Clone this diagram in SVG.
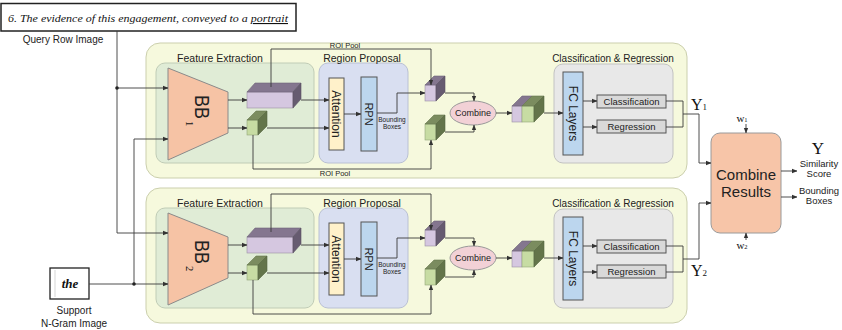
<svg xmlns="http://www.w3.org/2000/svg" width="842" height="330" viewBox="0 0 842 330">
<defs>
  <marker id="arr" viewBox="0 0 6 6" refX="5.6" refY="3" markerWidth="5.5" markerHeight="5.5" markerUnits="userSpaceOnUse" orient="auto">
    <path d="M0,0.6 L6,3 L0,5.4 Z" fill="#333"/>
  </marker>
</defs>
<style>
  .t{font-family:"Liberation Sans",Arial,sans-serif;fill:#222}
  .s{font-family:"Liberation Serif","Times New Roman",serif;fill:#111}
  .hand{font-family:"Liberation Serif","Times New Roman",serif;font-style:italic;fill:#111}
  .panel{fill:#f6f9dd;stroke:#cbcfad;stroke-width:1}
  .fe{fill:#e0ecd6;stroke:#c0ccb6;stroke-width:1}
  .rp{fill:#d9dff1;stroke:#b9c0d4;stroke-width:1}
  .cr{fill:#e8e8e8;stroke:#c2c2c2;stroke-width:1}
  .bb{fill:#f6c3a5;stroke:#8a8a8a;stroke-width:1}
  .att{fill:#fff1ca;stroke:#555;stroke-width:1}
  .blue{fill:#bcd6ee;stroke:#555;stroke-width:1}
  .box{fill:#d9d9d9;stroke:#555;stroke-width:1}
  .comb{fill:#f2d1d6;stroke:#999;stroke-width:1}
  .res{fill:#f7c5a8;stroke:#9a9a9a;stroke-width:1}
  .pf{fill:#d5c7e0;stroke:#9a90a2;stroke-width:0.6}
  .pt{fill:#84768f;stroke:#6f6478;stroke-width:0.6}
  .ps{fill:#665b70;stroke:#5a5063;stroke-width:0.6}
  .gf{fill:#c7dca3;stroke:#93a57a;stroke-width:0.6}
  .gt{fill:#7b8c5f;stroke:#66774d;stroke-width:0.6}
  .gs{fill:#63744a;stroke:#56663f;stroke-width:0.6}
  .ln{fill:none;stroke:#3a3a3a;stroke-width:0.9}
  .ar{marker-end:url(#arr)}
</style>

<!-- input images -->
<g id="query-image">
  <rect x="1" y="3.5" width="295" height="27.5" fill="#fff" stroke="#222" stroke-width="1.5"/>
  <text class="hand" x="8" y="22" font-size="11" textLength="280" lengthAdjust="spacingAndGlyphs">6. The evidence of this engagement, conveyed to a <tspan text-decoration="underline">portrait</tspan></text>
  <text class="t" x="63" y="43" font-size="10" text-anchor="middle">Query Row Image</text>
</g>
<g id="support-image">
  <rect x="50" y="268" width="39" height="31" fill="#fff" stroke="#222" stroke-width="1.3"/>
  <line x1="55" y1="270" x2="55" y2="297" stroke="#bbb" stroke-width="0.6"/>
  <text class="hand" x="70" y="288" font-size="13" text-anchor="middle" font-weight="bold">the</text>
  <text class="t" x="74" y="314" font-size="10" text-anchor="middle">Support</text>
  <text class="t" x="74" y="327" font-size="10" text-anchor="middle">N-Gram Image</text>
</g>

<!-- branch 1 -->
<g id="branch1">
  <rect class="panel" x="146" y="43" width="541" height="135" rx="14"/>
  <g id="feature-extraction-1">
    <rect class="fe" x="156" y="63" width="158" height="100" rx="9"/>
    <text class="t" x="220" y="61.5" font-size="10.5" text-anchor="middle">Feature Extraction</text>
  </g>
  <g id="region-proposal-1">
    <rect class="rp" x="319" y="63" width="89" height="100" rx="9"/>
    <text class="t" x="362" y="61.5" font-size="10.5" text-anchor="middle">Region Proposal</text>
  </g>
  <g id="cls-reg-1">
    <rect class="cr" x="554" y="64" width="119" height="99" rx="9"/>
    <text class="t" x="613" y="61.5" font-size="10" text-anchor="middle">Classification &amp; Regression</text>
  </g>
  <g id="backbone-1">
    <polygon class="bb" points="168,68 228,92 228,133 168,160"/>
    <g transform="translate(201,107) rotate(90)">
      <text class="t" x="-12" y="6.5" font-size="20" textLength="24" lengthAdjust="spacingAndGlyphs">BB</text>
      <text class="s" x="14" y="15" font-size="10.5">1</text>
    </g>
  </g>
  <g id="feat-map-1">
    <rect class="pf" x="247" y="92" width="46" height="16"/>
    <polygon class="pt" points="247,92 255,83 301,83 293,92"/>
    <polygon class="ps" points="293,92 301,83 301,99 293,108"/>
  </g>
  <g id="feat-vec-1">
    <rect class="gf" x="247" y="120" width="11" height="15"/>
    <polygon class="gt" points="247,120 256,111 267,111 258,120"/>
    <polygon class="gs" points="258,120 267,111 267,126 258,135"/>
  </g>
  <g id="attention-1">
    <rect class="att" x="329" y="78" width="15" height="72"/>
    <text class="t" transform="translate(336.5,114) rotate(90)" x="0" y="4.3" font-size="12" text-anchor="middle">Attention</text>
  </g>
  <g id="rpn-1">
    <rect class="blue" x="361" y="77" width="16" height="74"/>
    <text class="t" transform="translate(369,114) rotate(90)" x="0" y="4" font-size="11" text-anchor="middle">RPN</text>
    <text class="t" x="392" y="122" font-size="6.5" text-anchor="middle">Bounding</text>
    <text class="t" x="392" y="129" font-size="6.5" text-anchor="middle">Boxes</text>
  </g>
  <g id="roi-map-1">
    <rect class="pf" x="425" y="85" width="11" height="16"/>
    <polygon class="pt" points="425,85 434,76 445,76 436,85"/>
    <polygon class="ps" points="436,85 445,76 445,92 436,101"/>
  </g>
  <g id="roi-vec-1">
    <rect class="gf" x="425" y="124" width="11" height="16"/>
    <polygon class="gt" points="425,124 434,115 445,115 436,124"/>
    <polygon class="gs" points="436,124 445,115 445,131 436,140"/>
  </g>
  <g id="combine-1">
    <ellipse class="comb" cx="473" cy="113" rx="23" ry="12"/>
    <text class="t" x="473" y="116.2" font-size="9" text-anchor="middle">Combine</text>
  </g>
  <g id="joint-1">
    <rect class="pf" x="512" y="106" width="10" height="16"/>
    <rect class="gf" x="522" y="106" width="12" height="16"/>
    <polygon class="pt" points="512,106 522,96 532,96 522,106"/>
    <polygon class="gt" points="522,106 532,96 544,96 534,106"/>
    <polygon class="gs" points="534,106 544,96 544,112 534,122"/>
  </g>
  <g id="fc-1">
    <rect class="blue" x="563" y="72" width="20" height="83"/>
    <text class="t" transform="translate(573,113.5) rotate(90)" x="0" y="4.3" font-size="12" text-anchor="middle">FC Layers</text>
  </g>
  <g id="classification-1">
    <rect class="box" x="597" y="95" width="69" height="13"/>
    <text class="t" x="631.5" y="104.8" font-size="9.5" text-anchor="middle">Classification</text>
  </g>
  <g id="regression-1">
    <rect class="box" x="597" y="120" width="69" height="13"/>
    <text class="t" x="631.5" y="129.8" font-size="9.5" text-anchor="middle">Regression</text>
  </g>
  <text class="t" x="345" y="47.5" font-size="7.5" text-anchor="middle">ROI Pool</text>
  <text class="t" x="335" y="176" font-size="7.5" text-anchor="middle">ROI Pool</text>
  <text class="s" x="691" y="110" font-size="16">Y<tspan font-size="9">1</tspan></text>
</g>

<!-- branch 2 -->
<g id="branch2" transform="translate(0,145)">
  <rect class="panel" x="146" y="43" width="541" height="135" rx="14"/>
  <g id="feature-extraction-2">
    <rect class="fe" x="156" y="63" width="158" height="100" rx="9"/>
    <text class="t" x="220" y="61.5" font-size="10.5" text-anchor="middle">Feature Extraction</text>
  </g>
  <g id="region-proposal-2">
    <rect class="rp" x="319" y="63" width="89" height="100" rx="9"/>
    <text class="t" x="362" y="61.5" font-size="10.5" text-anchor="middle">Region Proposal</text>
  </g>
  <g id="cls-reg-2">
    <rect class="cr" x="554" y="64" width="119" height="99" rx="9"/>
    <text class="t" x="613" y="61.5" font-size="10" text-anchor="middle">Classification &amp; Regression</text>
  </g>
  <g id="backbone-2">
    <polygon class="bb" points="168,68 228,92 228,133 168,160"/>
    <g transform="translate(201,107) rotate(90)">
      <text class="t" x="-12" y="6.5" font-size="20" textLength="24" lengthAdjust="spacingAndGlyphs">BB</text>
      <text class="s" x="14" y="15" font-size="10.5">2</text>
    </g>
  </g>
  <g id="feat-map-2">
    <rect class="pf" x="247" y="92" width="46" height="16"/>
    <polygon class="pt" points="247,92 255,83 301,83 293,92"/>
    <polygon class="ps" points="293,92 301,83 301,99 293,108"/>
  </g>
  <g id="feat-vec-2">
    <rect class="gf" x="247" y="120" width="11" height="15"/>
    <polygon class="gt" points="247,120 256,111 267,111 258,120"/>
    <polygon class="gs" points="258,120 267,111 267,126 258,135"/>
  </g>
  <g id="attention-2">
    <rect class="att" x="329" y="78" width="15" height="72"/>
    <text class="t" transform="translate(336.5,114) rotate(90)" x="0" y="4.3" font-size="12" text-anchor="middle">Attention</text>
  </g>
  <g id="rpn-2">
    <rect class="blue" x="361" y="77" width="16" height="74"/>
    <text class="t" transform="translate(369,114) rotate(90)" x="0" y="4" font-size="11" text-anchor="middle">RPN</text>
    <text class="t" x="392" y="122" font-size="6.5" text-anchor="middle">Bounding</text>
    <text class="t" x="392" y="129" font-size="6.5" text-anchor="middle">Boxes</text>
  </g>
  <g id="roi-map-2">
    <rect class="pf" x="425" y="85" width="11" height="16"/>
    <polygon class="pt" points="425,85 434,76 445,76 436,85"/>
    <polygon class="ps" points="436,85 445,76 445,92 436,101"/>
  </g>
  <g id="roi-vec-2">
    <rect class="gf" x="425" y="124" width="11" height="16"/>
    <polygon class="gt" points="425,124 434,115 445,115 436,124"/>
    <polygon class="gs" points="436,124 445,115 445,131 436,140"/>
  </g>
  <g id="combine-2">
    <ellipse class="comb" cx="473" cy="113" rx="23" ry="12"/>
    <text class="t" x="473" y="116.2" font-size="9" text-anchor="middle">Combine</text>
  </g>
  <g id="joint-2">
    <rect class="pf" x="512" y="106" width="10" height="16"/>
    <rect class="gf" x="522" y="106" width="12" height="16"/>
    <polygon class="pt" points="512,106 522,96 532,96 522,106"/>
    <polygon class="gt" points="522,106 532,96 544,96 534,106"/>
    <polygon class="gs" points="534,106 544,96 544,112 534,122"/>
  </g>
  <g id="fc-2">
    <rect class="blue" x="563" y="72" width="20" height="83"/>
    <text class="t" transform="translate(573,113.5) rotate(90)" x="0" y="4.3" font-size="12" text-anchor="middle">FC Layers</text>
  </g>
  <g id="classification-2">
    <rect class="box" x="597" y="95" width="69" height="13"/>
    <text class="t" x="631.5" y="104.8" font-size="9.5" text-anchor="middle">Classification</text>
  </g>
  <g id="regression-2">
    <rect class="box" x="597" y="120" width="69" height="13"/>
    <text class="t" x="631.5" y="129.8" font-size="9.5" text-anchor="middle">Regression</text>
  </g>
  <text class="s" x="691" y="131" font-size="16">Y<tspan font-size="9">2</tspan></text>
</g>

<!-- fusion -->
<g id="combine-results">
  <rect class="res" x="711" y="133" width="70" height="100" rx="9"/>
  <text class="t" x="746" y="180" font-size="15" text-anchor="middle">Combine</text>
  <text class="t" x="746" y="197" font-size="15" text-anchor="middle">Results</text>
  <text class="s" x="742" y="122" font-size="11" text-anchor="middle">w<tspan font-size="6.5">1</tspan></text>
  <text class="s" x="742" y="249" font-size="11" text-anchor="middle">w<tspan font-size="6.5">2</tspan></text>
</g>
<g id="outputs">
  <text class="s" x="818" y="154" font-size="17" text-anchor="middle">Y</text>
  <text class="t" x="819" y="167" font-size="9.5" text-anchor="middle">Similarity</text>
  <text class="t" x="819" y="177" font-size="9.5" text-anchor="middle">Score</text>
  <text class="t" x="819" y="194" font-size="9.5" text-anchor="middle">Bounding</text>
  <text class="t" x="819" y="204" font-size="9.5" text-anchor="middle">Boxes</text>
</g>

<!-- connectors -->
<g id="connectors">
  <!-- inputs -->
  <path class="ln" d="M117,31 V233"/>
  <path class="ln ar" d="M117,88 H168"/>
  <path class="ln ar" d="M117,233 H168"/>
  <path class="ln ar" d="M89,284 H168"/>
  <path class="ln" d="M134,284 V139"/>
  <path class="ln ar" d="M134,139 H168"/>
  <circle cx="117" cy="88" r="1.8" fill="#222"/>
  <circle cx="134" cy="284" r="1.8" fill="#222"/>
  <!-- fusion -->
  <path class="ln ar" d="M683,114 H699 V163 H711"/>
  <path class="ln ar" d="M683,259 H699 V203 H711"/>
  <path class="ln ar" d="M746,124 V133"/>
  <path class="ln ar" d="M746,240 V233"/>
  <path class="ln ar" d="M781,171 H797"/>
  <path class="ln ar" d="M781,197 H797"/>
  <g id="connectors-1">
    <path class="ln ar" d="M228,100 H247"/>
    <path class="ln ar" d="M228,128 H247"/>
    <path class="ln ar" d="M301,100 H329"/>
    <path class="ln ar" d="M267,128 H329"/>
    <path class="ln ar" d="M344,114 H361"/>
    <path class="ln ar" d="M377,113 H397 V93 H425"/>
    <path class="ln ar" d="M271,87 V49 H431 V85"/>
    <path class="ln ar" d="M253,135 V169 H431 V140"/>
    <path class="ln ar" d="M445,93 H474 V101"/>
    <path class="ln ar" d="M445,132 H474 V125"/>
    <path class="ln ar" d="M496,113 H512"/>
    <path class="ln ar" d="M544,113 H563"/>
    <path class="ln ar" d="M583,101 H597"/>
    <path class="ln ar" d="M583,127 H597"/>
    <path class="ln" d="M666,101 H683 V127 H666"/>
  </g>
  <g id="connectors-2" transform="translate(0,145)">
    <path class="ln ar" d="M228,100 H247"/>
    <path class="ln ar" d="M228,128 H247"/>
    <path class="ln ar" d="M301,100 H329"/>
    <path class="ln ar" d="M267,128 H329"/>
    <path class="ln ar" d="M344,114 H361"/>
    <path class="ln ar" d="M377,113 H397 V93 H425"/>
    <path class="ln ar" d="M271,87 V49 H431 V85"/>
    <path class="ln ar" d="M253,135 V169 H431 V140"/>
    <path class="ln ar" d="M445,93 H474 V101"/>
    <path class="ln ar" d="M445,132 H474 V125"/>
    <path class="ln ar" d="M496,113 H512"/>
    <path class="ln ar" d="M544,113 H563"/>
    <path class="ln ar" d="M583,101 H597"/>
    <path class="ln ar" d="M583,127 H597"/>
    <path class="ln" d="M666,101 H683 V127 H666"/>
  </g>
</g>
</svg>
